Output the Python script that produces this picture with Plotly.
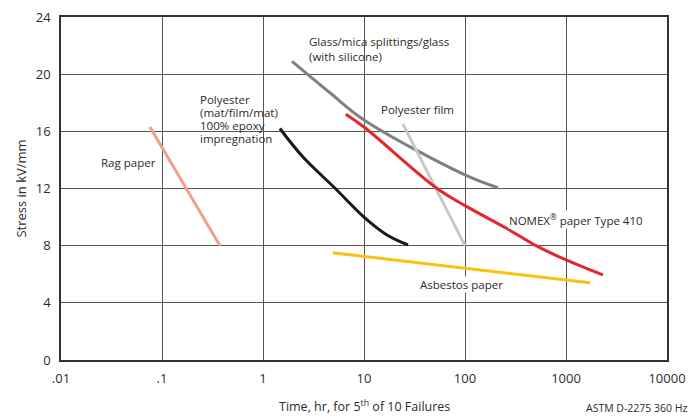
import plotly.graph_objects as go

# time to failure (hr) and stress (kV/mm)
rag_x = [0.076, 0.375]
rag_y = [16.3, 8.0]

poly_mat_x = [1.47, 2.49, 5.2, 10, 16.9, 27.3]
poly_mat_y = [16.2, 14.2, 12.0, 10.0, 8.75, 8.05]

glass_x = [1.94, 4.6, 10, 100, 212]
glass_y = [20.9, 18.7, 16.8, 12.95, 12.05]

nomex_x = [6.6, 10, 53, 100, 260, 505, 1000, 2320]
nomex_y = [17.2, 16.3, 12.0, 10.8, 9.2, 8.0, 7.0, 5.95]

film_x = [24.3, 100]
film_y = [16.5, 8.0]

asbestos_x = [4.9, 1730]
asbestos_y = [7.5, 5.4]

x_tickvals = [0.01, 0.1, 1, 10, 100, 1000, 10000]
x_ticktext = ['.01', '.1', '1', '10', '100', '1000', '10000']
y_tickvals = [0, 4, 8, 12, 16, 20, 24]

FONT = 'Open Sans'
TXT = '#2b2b2b'

fig = go.Figure()

def add_line(x, y, color, shape='linear'):
    fig.add_trace(go.Scatter(x=x, y=y, mode='lines', showlegend=False,
                             line=dict(color=color, width=3, shape=shape, smoothing=1)))

add_line(rag_x, rag_y, '#f2a08c')
add_line(glass_x, glass_y, '#808080', 'spline')
add_line(film_x, film_y, '#c8c8c8')
add_line(asbestos_x, asbestos_y, '#fcc010')
add_line(nomex_x, nomex_y, '#e2282e', 'spline')
add_line(poly_mat_x, poly_mat_y, '#1a1a1a', 'spline')

# white boxes behind the multi-line labels (they cut the grid lines)
for x0, x1, y0, y1 in [(0.221, 0.381, 0.598, 0.781), (0.403, 0.660, 0.857, 0.968)]:
    fig.add_shape(type='rect', xref='paper', yref='paper', x0=x0, x1=x1, y0=y0, y1=y1,
                  fillcolor='white', line_width=0, layer='between')

def label(lines, x, y, xanchor='left', step=0.91, bg='white'):
    for i, t in enumerate(lines):
        fig.add_annotation(text=t, x=x, y=y - i * step, xref='x', yref='y', showarrow=False,
                           xanchor=xanchor, yanchor='middle',
                           bgcolor=bg, borderpad=0,
                           font=dict(family=FONT, size=11.5, color=TXT))

label(['Rag paper'], -1.05, 13.85, xanchor='right')
label(['Polyester', '(mat/film/mat)', '100% epoxy', 'impregnation'], -0.634, 18.2,
      bg='rgba(0,0,0,0)')
label(['Glass/mica splittings/glass', '(with silicone)'], 0.446, 22.3, step=1.05,
      bg='rgba(0,0,0,0)')
label(['Polyester film'], 1.158, 17.56)
label(['NOMEX<sup>®</sup> paper Type 410'], 2.426, 9.86)
label(['Asbestos paper'], 1.545, 5.25)

fig.add_annotation(text='Time, hr, for 5<sup>th</sup> of 10 Failures', x=0.5, y=-0.135,
                   xref='paper', yref='paper', showarrow=False, yanchor='middle',
                   font=dict(family=FONT, size=12.5, color=TXT))
fig.add_annotation(text='ASTM D-2275 360 Hz', x=1.038, y=-0.14,
                   xref='paper', yref='paper', showarrow=False,
                   xanchor='right', yanchor='middle',
                   font=dict(family=FONT, size=10.5, color=TXT))

fig.update_xaxes(type='log', range=[-2, 4], tickvals=x_tickvals, ticktext=x_ticktext,
                 showgrid=True, gridcolor='#555555', gridwidth=1,
                 showline=True, linecolor='#333333', linewidth=1.5, mirror=True,
                 ticks='outside', ticklen=6, tickcolor='white', zeroline=False,
                 automargin=False, ticklabeloverflow='allow',
                 tickfont=dict(family=FONT, size=13, color=TXT))
fig.update_yaxes(range=[0, 24], tickvals=y_tickvals,
                 showgrid=True, gridcolor='#555555', gridwidth=1,
                 showline=True, linecolor='#333333', linewidth=1.5, mirror=True,
                 ticks='outside', ticklen=6, tickcolor='white', zeroline=False,
                 automargin=False, ticklabeloverflow='allow',
                 title=dict(text='Stress in kV/mm', standoff=6,
                            font=dict(family=FONT, size=13, color=TXT)),
                 tickfont=dict(family=FONT, size=13, color=TXT))

# the page adds an 8px body margin, so the figure is shrunk by that amount
fig.update_layout(width=691, height=408, plot_bgcolor='white', paper_bgcolor='white',
                  margin=dict(l=53, r=32, t=9, b=56))

fig.write_html("out.html")
